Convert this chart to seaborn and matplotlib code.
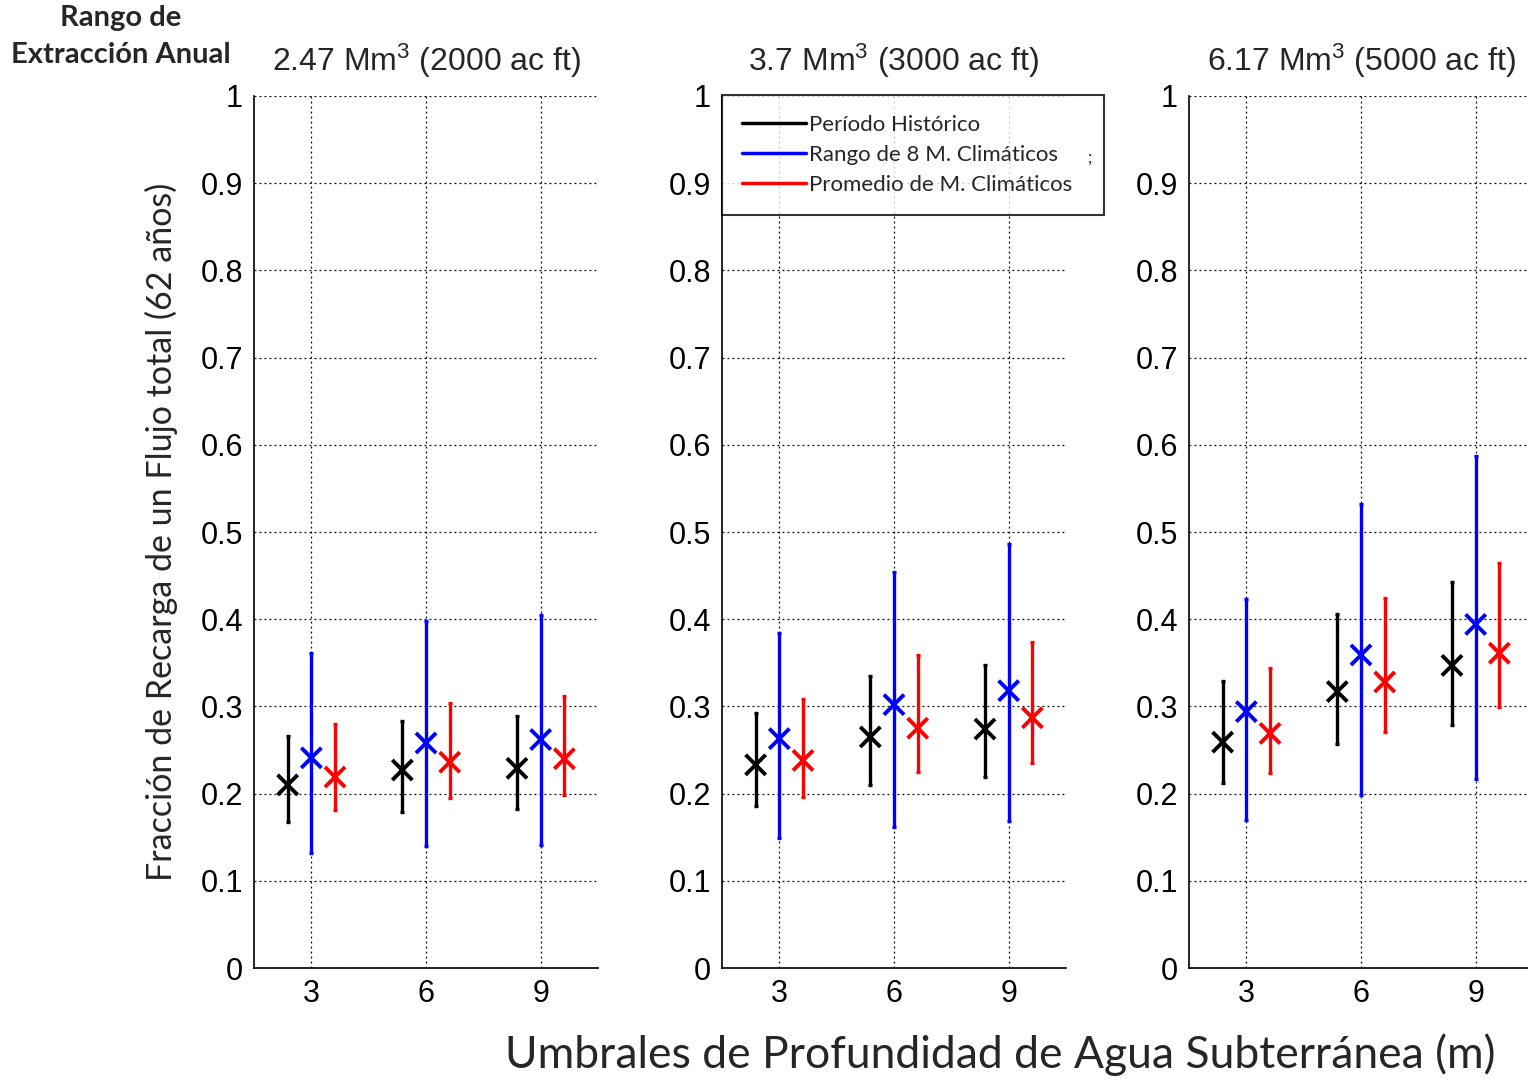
import matplotlib
matplotlib.use("Agg")
import matplotlib.pyplot as plt
import seaborn as sns
import pandas as pd
from matplotlib.lines import Line2D

# umbrales de profundidad (m)
umbrales = [3, 6, 9]
titulos = [r"2.47 Mm$^{\mathrm{3}}$ (2000 ac ft)",
           r"3.7 Mm$^{\mathrm{3}}$ (3000 ac ft)",
           r"6.17 Mm$^{\mathrm{3}}$ (5000 ac ft)"]
series = ["Período Histórico", "Rango de 8 M. Climáticos", "Promedio de M. Climáticos"]
colores = ["black", "blue", "red"]

# valores: [panel][umbral]
hist_centro = [[0.210, 0.227, 0.229], [0.233, 0.265, 0.274], [0.259, 0.317, 0.347]]
hist_min = [[0.167, 0.179, 0.182], [0.186, 0.210, 0.219], [0.212, 0.257, 0.279]]
hist_max = [[0.266, 0.283, 0.289], [0.292, 0.335, 0.347], [0.329, 0.406, 0.443]]

rango_centro = [[0.241, 0.258, 0.262], [0.263, 0.302, 0.318], [0.294, 0.359, 0.394]]
rango_min = [[0.132, 0.140, 0.141], [0.149, 0.162, 0.169], [0.170, 0.198, 0.217]]
rango_max = [[0.361, 0.398, 0.405], [0.384, 0.454, 0.486], [0.423, 0.532, 0.587]]

prom_centro = [[0.219, 0.236, 0.240], [0.238, 0.275, 0.287], [0.269, 0.328, 0.361]]
prom_min = [[0.181, 0.195, 0.198], [0.196, 0.225, 0.235], [0.224, 0.271, 0.299]]
prom_max = [[0.280, 0.304, 0.312], [0.308, 0.359, 0.374], [0.344, 0.424, 0.464]]

centros = [hist_centro, rango_centro, prom_centro]
minimos = [hist_min, rango_min, prom_min]
maximos = [hist_max, rango_max, prom_max]
desplaz = [-0.62, 0.0, 0.62]

sns.set_style("white")
plt.rcParams["font.family"] = ["Liberation Sans", "DejaVu Sans"]
plt.rcParams["mathtext.fontset"] = "custom"
plt.rcParams["mathtext.rm"] = "Liberation Sans"
plt.rcParams["mathtext.it"] = "Liberation Sans:italic"
calibri = ["Lato", "DejaVu Sans"]

fig = plt.figure(figsize=(15.28, 10.8), dpi=100)
lefts = [254, 722, 1189]

for p in range(3):
    ax = fig.add_axes([lefts[p] / 1528, 112 / 1080, 344 / 1528, 872 / 1080])
    filas = []
    for s in range(3):
        for u in range(3):
            filas.append({"x": umbrales[u] + desplaz[s], "y": centros[s][p][u],
                          "lo": minimos[s][p][u], "hi": maximos[s][p][u], "serie": series[s]})
    df = pd.DataFrame(filas)
    for s in range(3):
        d = df[df["serie"] == series[s]]
        ax.errorbar(d["x"], d["y"], yerr=[d["y"] - d["lo"], d["hi"] - d["y"]],
                    fmt="none", ecolor=colores[s], elinewidth=2.4, capsize=1.5, capthick=2.4, zorder=3)
    sns.scatterplot(data=df, x="x", y="y", hue="serie", palette=colores, marker="x",
                    s=210, linewidth=2.8, legend=False, ax=ax, zorder=4)

    ax.set_xlim(1.5, 10.5)
    ax.set_ylim(0, 1)
    ax.set_xticks(umbrales)
    ax.set_yticks([i / 10 for i in range(11)])
    ax.set_yticklabels(["%g" % (i / 10) for i in range(11)])
    ax.tick_params(axis="both", direction="in", length=5, width=1, labelsize=22, pad=8, colors="black")
    ax.grid(True, color="black", linestyle=(0, (1.5, 2.5)), linewidth=0.9)
    for lado in ["top", "right"]:
        ax.spines[lado].set_visible(False)
    for lado in ["left", "bottom"]:
        ax.spines[lado].set_color("black")
        ax.spines[lado].set_linewidth(1.2)
    ax.set_xlabel("")
    ax.set_ylabel("")
    ax.set_title(titulos[p], fontsize=23, pad=18)

    if p == 0:
        ax.set_ylabel("Fracción de Recarga de un Flujo total (62 años)", fontsize=24.5,
                      family=calibri, labelpad=16)
    if p == 1:
        manejadores = [Line2D([0], [0], color=c, linewidth=2.5) for c in colores]
        leg = ax.legend(manejadores, series, loc="upper left",
                        bbox_to_anchor=(722 / 1528, 1 - 212 / 1080, 382 / 1528, 117 / 1080),
                        bbox_transform=fig.transFigure, mode="expand",
                        prop={"family": calibri, "size": 16}, frameon=True, fancybox=False,
                        edgecolor="black", handlelength=2.9, handletextpad=0.1,
                        borderpad=0.9, labelspacing=0.45, borderaxespad=0)
        leg.get_frame().set_linewidth(1.5)

fig.text(1090 / 1528, 1 - 158 / 1080, ";", fontsize=12, family=calibri, ha="center", va="center")
fig.text(121 / 1528, 1 - 18 / 1080, "Rango de", fontsize=21, weight="bold", family=calibri,
         ha="center", va="center")
fig.text(121 / 1528, 1 - 55 / 1080, "Extracción Anual", fontsize=21, weight="bold", family=calibri,
         ha="center", va="center")
fig.text(1000 / 1528, 1 - 1055 / 1080, "Umbrales de Profundidad de Agua Subterránea (m)",
         fontsize=32, family=calibri, ha="center", va="center")

fig.savefig("out.png", dpi=100)
